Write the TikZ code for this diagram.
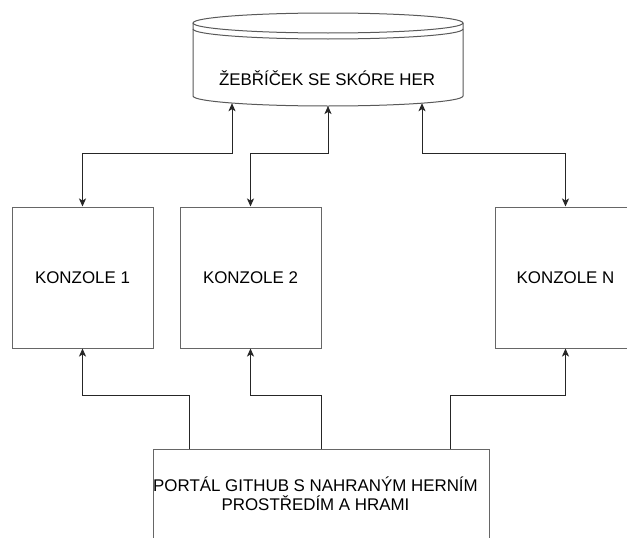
\documentclass[tikz,border=0pt]{standalone}
\usepackage{fontspec}
\setmainfont{Liberation Sans}
\usetikzlibrary{arrows.meta}
\begin{document}
\begin{tikzpicture}[x=1pt,y=-1pt,
  txt/.style={font=\fontsize{16.9}{19}\selectfont, text=black, align=center},
  boxst/.style={draw=black!60, line width=1pt, fill=white, rectangle, inner sep=0pt, txt},
  konzole/.style={boxst, minimum width=141pt, minimum height=141pt},
  conn/.style={draw=black!85, line width=1pt, -{Stealth[length=8pt,width=7pt,inset=2pt]}},
  biconn/.style={draw=black!85, line width=1pt, {Stealth[length=8pt,width=7pt,inset=2pt]}-{Stealth[length=8pt,width=7pt,inset=2pt]}},
  dbline/.style={draw=black!65, line width=1pt}
]
\useasboundingbox (0,0) rectangle (627,538);
\clip (0,0) rectangle (627,538);
\fill[white] (0,0) rectangle (627,538);

% database (datastore)
\draw[dbline, fill=white] (193,23) arc[start angle=180, end angle=0, x radius=135pt, y radius=10pt]
  -- (463,96) arc[start angle=360, end angle=180, x radius=135pt, y radius=10pt] -- cycle;
\draw[dbline] (193,23) arc[start angle=180, end angle=360, x radius=135pt, y radius=10pt];
\draw[dbline] (193,29) arc[start angle=180, end angle=360, x radius=135pt, y radius=10pt];
\node[txt] (db) at (327,78) {ŽEBŘÍČEK SE SKÓRE HER};
\coordinate (db1) at (232,103.2);
\coordinate (db2) at (328,106);
\coordinate (db3) at (422,103.2);

% consoles
\node[konzole] (k1) at (82.5,277.5) {KONZOLE 1};
\node[konzole] (k2) at (250.5,277.5) {KONZOLE 2};
\node[konzole] (kN) at (565.5,277.5) {KONZOLE N};

% portal
\node[boxst, minimum width=336pt, minimum height=90pt] (portal) at (321,494) {};
\node[txt] (portaltext) at (315.5,494) {PORTÁL GITHUB S NAHRANÝM HERNÍM\\PROSTŘEDÍM A HRAMI};

% routing levels
\coordinate (top) at (0,153.5);
\coordinate (mid) at (0,395.5);
\coordinate (p1) at (189.5,449);
\coordinate (p2) at (321.5,449);
\coordinate (p3) at (450,449);

% consoles <-> database
\draw[biconn] (k1.north) -- (k1.north |- top) -| (db1);
\draw[biconn] (k2.north) -- (k2.north |- top) -| (db2);
\draw[biconn] (kN.north) -- (kN.north |- top) -| (db3);

% portal -> consoles
\draw[conn] (p1) -- (p1 |- mid) -| (k1.south);
\draw[conn] (p2) -- (p2 |- mid) -| (k2.south);
\draw[conn] (p3) -- (p3 |- mid) -| (kN.south);
\end{tikzpicture}
\end{document}
